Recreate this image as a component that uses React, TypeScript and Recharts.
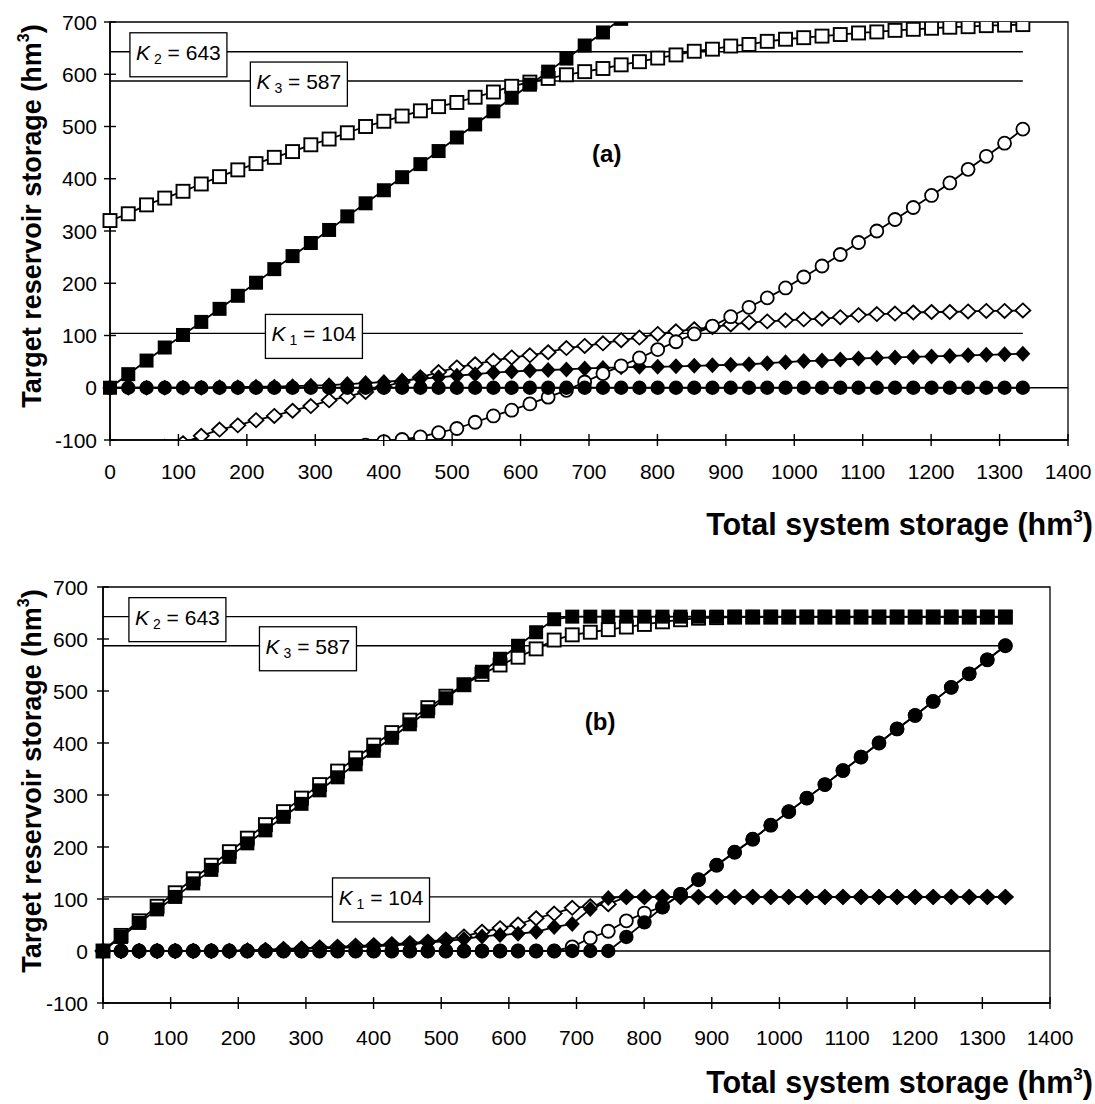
import React from 'react';
import { LineChart, Line, XAxis, YAxis, ReferenceLine, ReferenceDot, ReferenceArea } from 'recharts';

const FONT = "'Liberation Sans', Arial, Helvetica, sans-serif";

// Total system storage (hm3) — x positions of the computed points
const X_STORAGE = [
  0, 26.7, 53.4, 80.0, 106.7, 133.4, 160.1, 186.8, 213.4, 240.1,
  266.8, 293.5, 320.2, 346.8, 373.5, 400.2, 426.9, 453.6, 480.2, 506.9,
  533.6, 560.3, 587.0, 613.6, 640.3, 667.0, 693.7, 720.4, 747.0, 773.7,
  800.4, 827.1, 853.8, 880.4, 907.1, 933.8, 960.5, 987.2, 1013.8, 1040.5,
  1067.2, 1093.9, 1120.6, 1147.2, 1173.9, 1200.6, 1227.3, 1254.0, 1280.6, 1307.3,
  1334.0,
];

const X_TICKS = [0, 100, 200, 300, 400, 500, 600, 700, 800, 900, 1000, 1100, 1200, 1300, 1400];
const Y_TICKS = [-100, 0, 100, 200, 300, 400, 500, 600, 700];

const K1 = 104;
const K2 = 643;
const K3 = 587;
const K_LINE_END = 1334;

// ---------- Panel (a) ----------
const A_OPEN_SQ = [
  320, 333, 350, 363, 376, 390, 404, 417, 429, 441,
  452, 465, 476, 488, 500, 510, 520, 530, 538, 546,
  556, 566, 577, 585, 592, 599, 605, 611, 618, 624,
  631, 637, 644, 648, 654, 657, 663, 667, 670, 673,
  676, 679, 681, 684, 686, 688, 690, 691, 693, 694,
  695,
];
const A_FILLED_SQ = [
  0, 26, 52, 77, 101, 126, 151, 176, 201, 227,
  252, 277, 302, 328, 353, 378, 403, 428, 453, 479,
  504, 529, 555, 580, 605, 630, 655, 680, 706, null,
  null, null, null, null, null, null, null, null, null, null,
  null, null, null, null, null, null, null, null, null, null,
  null,
];
const A_OPEN_DIA = [
  null, -140, -124, -113, -106, -92, -80, -72, -62, -54,
  -44, -35, -24, -17, -8, 2, 11, 20, 30, 39,
  45, 52, 58, 62, 68, 76, 80, 85, 91, 96,
  103, 108, 112, 116, 121, 125, 127, 129, 131, 132,
  135, 139, 141, 142, 144, 145, 145, 146, 147, 147,
  148,
];
const A_FILLED_DIA = [
  0, 0, 0, 0, 0, 0, 1, 1, 2, 2,
  3, 4, 5, 7, 9, 11, 14, 17, 20, 23,
  26, 29, 31, 33, 34, 35, 37, 38, 39, 40,
  40, 41, 42, 43, 44, 45, 47, 49, 51, 52,
  54, 56, 57, 58, 59, 60, 61, 62, 63, 64,
  65,
];
const A_OPEN_CIRC = [
  null, null, null, null, null, null, null, null, null, null,
  null, null, -133, -121, -110, -103, -99, -94, -86, -78,
  -66, -54, -43, -31, -18, -5, 11, 27, 42, 57,
  73, 88, 103, 118, 136, 154, 172, 191, 212, 233,
  255, 278, 300, 322, 345, 368, 392, 418, 443, 468,
  495,
];
const A_FILLED_CIRC = [
  0, 0, 0, 0, 0, 0, 0, 0, 0, 0,
  0, 0, 0, 0, 0, 0, 0, 0, 0, 0,
  0, 0, 0, 0, 0, 0, 0, 0, 0, 0,
  0, 0, 0, 0, 0, 0, 0, 0, 0, 0,
  0, 0, 0, 0, 0, 0, 0, 0, 0, 0,
  0,
];

// ---------- Panel (b) ----------
const B_OPEN_SQ = [
  0, 30, 58, 86, 112, 139, 165, 191, 217, 243,
  268, 294, 320, 346, 371, 396, 420, 444, 468, 490,
  512, 532, 550, 565, 581, 598, 608, 613, 618, 623,
  628, 633, 637, 640, 641, 642, 642, 642, 642, 642,
  642, 642, 642, 642, 642, 642, 642, 642, 642, 642,
  642,
];
const B_FILLED_SQ = [
  0, 27, 54, 80, 104, 130, 156, 181, 207, 232,
  258, 283, 309, 334, 359, 385, 410, 436, 461, 486,
  512, 537, 562, 587, 613, 638, 643, 643, 643, 643,
  643, 643, 643, 643, 643, 643, 643, 643, 643, 643,
  643, 643, 643, 643, 643, 643, 643, 643, 643, 643,
  643,
];
const B_OPEN_DIA = [
  0, 0, 0, 0, 0, 0, 0, 0, 1, 2,
  4, 5, 7, 8, 10, 11, 13, 15, 18, 22,
  28, 37, 44, 51, 63, 72, 83, 86, 90, 104,
  104, 104, 104, 104, 104, 104, 104, 104, 104, 104,
  104, 104, 104, 104, 104, 104, 104, 104, 104, 104,
  104,
];
const B_FILLED_DIA = [
  0, 0, 0, 0, 0, 0, 0, 0, 1, 2,
  3, 4, 5, 6, 7, 9, 11, 13, 16, 19,
  23, 28, 31, 33, 37, 46, 52, 81, 102, 104,
  104, 104, 104, 104, 104, 104, 104, 104, 104, 104,
  104, 104, 104, 104, 104, 104, 104, 104, 104, 104,
  104,
];
const B_OPEN_CIRC = [
  0, 0, 0, 0, 0, 0, 0, 0, 0, 0,
  0, 0, 0, 0, 0, 0, 0, 0, 0, 0,
  0, 0, 0, 0, 0, 0, 8, 25, 38, 58,
  73, 85, 109, 137, 165, 190, 215, 242, 268, 294,
  320, 347, 373, 400, 427, 453, 480, 507, 533, 560,
  587,
];
const B_FILLED_CIRC = [
  0, 0, 0, 0, 0, 0, 0, 0, 0, 0,
  0, 0, 0, 0, 0, 0, 0, 0, 0, 0,
  0, 0, 0, 0, 0, 0, 0, 0, 0, 27,
  55, 84, 109, 137, 165, 190, 215, 242, 268, 294,
  320, 347, 373, 400, 427, 453, 480, 507, 533, 560,
  587,
];

const buildRows = (os: any[], fs: any[], od: any[], fd: any[], oc: any[], fc: any[]) =>
  X_STORAGE.map((x, i) => ({ x, os: os[i], fs: fs[i], od: od[i], fd: fd[i], oc: oc[i], fc: fc[i] }));

const ROWS_A = buildRows(A_OPEN_SQ, A_FILLED_SQ, A_OPEN_DIA, A_FILLED_DIA, A_OPEN_CIRC, A_FILLED_CIRC);
const ROWS_B = buildRows(B_OPEN_SQ, B_FILLED_SQ, B_OPEN_DIA, B_FILLED_DIA, B_OPEN_CIRC, B_FILLED_CIRC);

function dotRenderer(kind: string) {
  return (p: any) => {
    const { cx, cy, value, index } = p;
    const k = `d-${kind}-${index}`;
    if (value == null || cx == null || cy == null || Number.isNaN(cx) || Number.isNaN(cy)) return <g key={k} />;
    switch (kind) {
      case 'fs':
        return <rect key={k} x={cx - 7} y={cy - 7} width={14} height={14} fill="#000" />;
      case 'os':
        return <rect key={k} x={cx - 6.5} y={cy - 6.5} width={13} height={13} fill="#fff" stroke="#000" strokeWidth={1.9} />;
      case 'fd':
        return <polygon key={k} points={`${cx},${cy - 8} ${cx + 7.5},${cy} ${cx},${cy + 8} ${cx - 7.5},${cy}`} fill="#000" />;
      case 'od':
        return <polygon key={k} points={`${cx},${cy - 7} ${cx + 7.5},${cy} ${cx},${cy + 7} ${cx - 7.5},${cy}`} fill="#fff" stroke="#000" strokeWidth={1.8} />;
      case 'fc':
        return <circle key={k} cx={cx} cy={cy} r={7.2} fill="#000" />;
      case 'oc':
      default:
        return <circle key={k} cx={cx} cy={cy} r={6.5} fill="#fff" stroke="#000" strokeWidth={1.8} />;
    }
  };
}

const makeYTick = (gap: number) => (p: any) => {
  const { x, y, payload } = p;
  return (
    <g>
      <line x1={x} x2={x + 12} y1={y} y2={y} stroke="#000" strokeWidth={1.4} />
      <text x={x - gap} y={y} textAnchor="end" dominantBaseline="central" fontFamily={FONT} fontSize={21} fill="#000">
        {payload.value}
      </text>
    </g>
  );
};

const makeXTick = (dy: number) => (p: any) => {
  const { x, y, payload } = p;
  return (
    <g>
      <line x1={x} x2={x} y1={y - 12} y2={y} stroke="#000" strokeWidth={1.4} />
      <text x={x} y={y + dy} textAnchor="middle" fontFamily={FONT} fontSize={21} fill="#000">
        {payload.value}
      </text>
    </g>
  );
};

const kBox = (sub: string, val: string) => (p: any) => {
  const { cx, cy } = p;
  if (cx == null || cy == null) return <g />;
  const w = 97;
  const h = 44;
  return (
    <g>
      <rect x={cx - w / 2} y={cy + 3 - h / 2} width={w} height={h} fill="#fff" stroke="#000" strokeWidth={1.3} />
      <text x={cx} y={cy + 8} textAnchor="middle" fontFamily={FONT} fontSize={21} fill="#000">
        <tspan fontStyle="italic">K</tspan>
        <tspan fontSize={14} dy={4}>{' ' + sub}</tspan>
        <tspan dy={-4}>{' = ' + val}</tspan>
      </text>
    </g>
  );
};

const tagShape = (text: string) => (p: any) => {
  const { cx, cy } = p;
  if (cx == null || cy == null) return <g />;
  return (
    <text x={cx} y={cy} textAnchor="middle" dominantBaseline="central" fontFamily={FONT} fontWeight="bold" fontSize={24} fill="#000">
      {text}
    </text>
  );
};

type PanelProps = {
  rows: any[];
  top: number;
  margin: { top: number; right: number; bottom: number; left: number };
  yAxisWidth: number;
  yGap: number;
  xDy: number;
  kPos: { k1: number; k2: number; k3: number };
  tag: { x: number; y: number; text: string };
};

const SERIES = ['os', 'fs', 'od', 'fd', 'oc', 'fc'];

function Panel({ rows, top, margin, yAxisWidth, yGap, xDy, kPos, tag }: PanelProps) {
  return (
    <div style={{ position: 'absolute', left: 0, top }}>
      <LineChart width={1095} height={500} data={rows} margin={margin}>
        <XAxis
          type="number"
          dataKey="x"
          domain={[0, 1400]}
          ticks={X_TICKS}
          interval={0}
          tickSize={6}
          tickMargin={0}
          tickLine={false}
          axisLine={{ stroke: '#000', strokeWidth: 1.6 }}
          tick={makeXTick(xDy)}
          height={40}
        />
        <YAxis
          type="number"
          domain={[-100, 700]}
          ticks={Y_TICKS}
          interval={0}
          allowDataOverflow
          tickSize={6}
          tickMargin={0}
          tickLine={false}
          axisLine={{ stroke: '#000', strokeWidth: 1.6 }}
          tick={makeYTick(yGap)}
          width={yAxisWidth}
        />
        <ReferenceArea x1={0} x2={1400} y1={-100} y2={700} fill="none" stroke="#000" strokeWidth={1.3} />
        <ReferenceLine y={0} stroke="#000" strokeWidth={1.4} />
        <ReferenceLine segment={[{ x: 0, y: K1 }, { x: K_LINE_END, y: K1 }]} stroke="#000" strokeWidth={1.4} />
        <ReferenceLine segment={[{ x: 0, y: K2 }, { x: K_LINE_END, y: K2 }]} stroke="#000" strokeWidth={1.4} />
        <ReferenceLine segment={[{ x: 0, y: K3 }, { x: K_LINE_END, y: K3 }]} stroke="#000" strokeWidth={1.4} />
        {SERIES.map((s) => (
          <Line
            key={s}
            type="linear"
            dataKey={s}
            stroke="#000"
            strokeWidth={1.8}
            dot={dotRenderer(s)}
            activeDot={false}
            connectNulls={false}
            isAnimationActive={false}
          />
        ))}
        <ReferenceDot x={kPos.k2} y={K2} r={0} shape={kBox('2', String(K2))} />
        <ReferenceDot x={kPos.k3} y={K3} r={0} shape={kBox('3', String(K3))} />
        <ReferenceDot x={kPos.k1} y={K1} r={0} shape={kBox('1', String(K1))} />
        <ReferenceDot x={tag.x} y={tag.y} r={0} shape={tagShape(tag.text)} />
      </LineChart>
    </div>
  );
}

function YTitle({ cx, cy }: { cx: number; cy: number }) {
  return (
    <text transform={`translate(${cx},${cy}) rotate(-90)`} textAnchor="middle" fontFamily={FONT} fontWeight="bold" fontSize={27} fill="#000">
      Target reservoir storage (hm
      <tspan fontSize={16} dy={-12}>3</tspan>
      <tspan dy={12}>)</tspan>
    </text>
  );
}

function XTitle({ right, baseline }: { right: number; baseline: number }) {
  return (
    <text x={right} y={baseline} textAnchor="end" fontFamily={FONT} fontWeight="bold" fontSize={30.5} fill="#000">
      Total system storage (hm
      <tspan fontSize={17} dy={-13}>3</tspan>
      <tspan dy={13}>)</tspan>
    </text>
  );
}

export default function App() {
  return (
    <div style={{ position: 'absolute', left: 0, top: 0, width: 1095, height: 1104, background: '#fff', overflow: 'hidden' }}>
      <Panel
        rows={ROWS_A}
        top={0}
        margin={{ top: 22, right: 27, bottom: 20, left: 0 }}
        yAxisWidth={110}
        yGap={7}
        xDy={33}
        kPos={{ k1: 298, k2: 100, k3: 276 }}
        tag={{ x: 726, y: 448, text: '(a)' }}
      />
      <Panel
        rows={ROWS_B}
        top={560}
        margin={{ top: 27, right: 45, bottom: 17, left: 0 }}
        yAxisWidth={103}
        yGap={9}
        xDy={36}
        kPos={{ k1: 411, k2: 110, k3: 303 }}
        tag={{ x: 735, y: 442, text: '(b)' }}
      />
      <svg width={1095} height={1104} style={{ position: 'absolute', left: 0, top: 0, pointerEvents: 'none' }}>
        <YTitle cx={41} cy={216} />
        <YTitle cx={41} cy={781} />
        <XTitle right={1093} baseline={535} />
        <XTitle right={1093} baseline={1093} />
      </svg>
    </div>
  );
}
